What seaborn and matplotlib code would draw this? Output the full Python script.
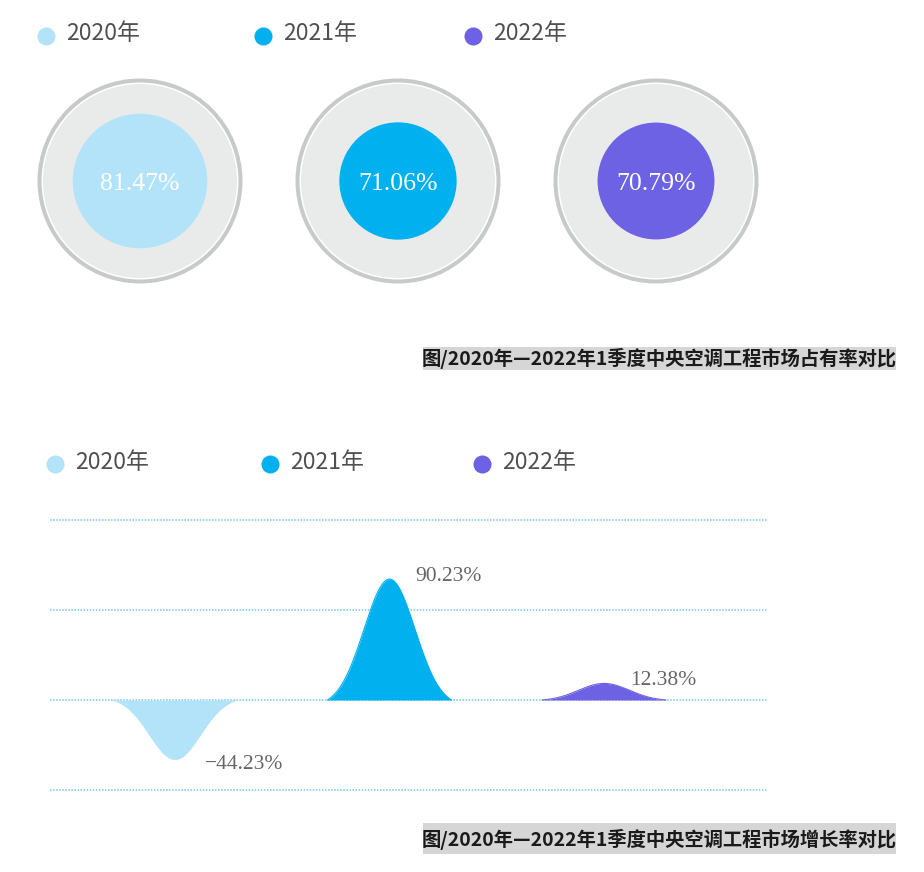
import numpy as np
import pandas as pd
import matplotlib
matplotlib.use("Agg")
import matplotlib.pyplot as plt
from matplotlib.patches import Circle, Rectangle
import seaborn as sns

# ---------------- data ----------------
years = ["2020年", "2021年", "2022年"]
share = [81.47, 71.06, 70.79]          # market share (%)
growth = [-44.23, 90.23, 12.38]        # growth rate (%)
colors = ["#b3e3f8", "#00b0ef", "#6e62e4"]
caption_share = "图/2020年—2022年1季度中央空调工程市场占有率对比"
caption_growth = "图/2020年—2022年1季度中央空调工程市场增长率对比"

sns.set_style("white")
plt.rcParams["font.family"] = ["Noto Sans CJK SC", "DejaVu Sans"]

W, H = 924, 872
fig = plt.figure(figsize=(W / 100, H / 100), dpi=100)


def fx(px):
    return px / W


def fy(py):
    return 1 - py / H


TXT = "#505050"

# ---------------- top: circles ----------------
U1 = 258.0   # pixels per category unit
cx0, cy0 = 140, 181
top_h = 300
ax1 = fig.add_axes([0, 1 - top_h / H, 1, top_h / H])
ax1.set_xlim(-cx0 / U1, (W - cx0) / U1)
ax1.set_ylim(-(top_h - cy0) / U1, cy0 / U1)
ax1.axis("off")

for i, (v, c) in enumerate(zip(share, colors)):
    ax1.add_patch(Circle((i, 0), 102.5 / U1, fc="#c8c9c9", ec="none"))
    ax1.add_patch(Circle((i, 0), 98.5 / U1, fc="white", ec="none"))
    ax1.add_patch(Circle((i, 0), 97.0 / U1, fc="#e9ebea", ec="none"))
    ax1.add_patch(Circle((i, 0), v / 100 * 0.32, fc=c, ec="none"))
    ax1.text(i, -3 / U1, f"{v:.2f}%", ha="center", va="center", color="white",
             family="Liberation Serif", fontsize=18.5)

# top legend
leg_top_x = [46, 263, 473]
for xm, lab, c in zip(leg_top_x, years, colors):
    fig.add_artist(plt.Line2D([fx(xm)], [fy(36)], marker="o", ms=13, color=c,
                              mec="none", transform=fig.transFigure))
    fig.text(fx(xm + 20), fy(33), lab, ha="left", va="center", color=TXT,
             fontsize=16.5, fontweight="medium")

# caption 1
fig.add_artist(Rectangle((fx(423), fy(370)), fx(896) - fx(423), (370 - 347) / H,
                         transform=fig.transFigure, fc="#d6d6d6", ec="none"))
fig.text(fx(897), fy(358.5), caption_share, ha="right", va="center",
         fontsize=13.9, fontweight="bold", color="#1a1a1a")

# ---------------- bottom: growth peaks ----------------
U2 = 214.5          # pixels per category unit
PXV = 1.34          # pixels per percent
grid_step = 90 / PXV
x_left, x_right = 50, 768
y_top, y_bot, y_zero = 470, 820, 700
cat0 = 175
ax2 = fig.add_axes([fx(x_left), fy(y_bot), (x_right - x_left) / W, (y_bot - y_top) / H])
ax2.set_xlim(-(cat0 - x_left) / U2, (x_right - cat0) / U2)
ax2.set_ylim(-(y_bot - y_zero) / PXV, (y_zero - y_top) / PXV)

hw = 62 / U2
sig = 25.5 / U2
rows = []
for i, (yr, v) in enumerate(zip(years, growth)):
    xs = np.linspace(-hw, hw, 241)
    g = np.exp(-0.5 * (xs / sig) ** 2)
    g0 = np.exp(-0.5 * (hw / sig) ** 2)
    shape = (g - g0) / (1 - g0)
    for xx, s in zip(xs, shape):
        rows.append({"year": yr, "x": i + xx, "y": v * s})
df = pd.DataFrame(rows)

sns.lineplot(data=df, x="x", y="y", hue="year", palette=colors, ax=ax2,
             legend=False, linewidth=0.8, sort=True, estimator=None)
for yr, c in zip(years, colors):
    d = df[df["year"] == yr]
    ax2.fill_between(d["x"], 0, d["y"], color=c, lw=0)

ax2.set_yticks([-grid_step, 0, grid_step, 2 * grid_step])
ax2.set_xticks([])
ax2.grid(axis="y", color="#79c6ea", linestyle=(0, (1, 1)), linewidth=1.1)
ax2.set_axisbelow(True)
ax2.tick_params(left=False, labelleft=False, bottom=False, labelbottom=False)
for sp in ax2.spines.values():
    sp.set_visible(False)
ax2.set_xlabel("")
ax2.set_ylabel("")

for i, v in enumerate(growth):
    off = 0.14 if v < 0 else 0.12
    lab = f"{v:.2f}%".replace("-", "\u2212")
    ax2.text(i + off, v - (4 if v < 0 else -2), lab, ha="left", va="center",
             color="#666666", family="Liberation Serif", fontsize=15.5)

# bottom legend
leg_bot_x = [55, 270, 482]
for xm, lab, c in zip(leg_bot_x, years, colors):
    fig.add_artist(plt.Line2D([fx(xm)], [fy(464)], marker="o", ms=13, color=c,
                              mec="none", transform=fig.transFigure))
    fig.text(fx(xm + 20), fy(462), lab, ha="left", va="center", color=TXT,
             fontsize=16.5, fontweight="medium")

# caption 2
fig.add_artist(Rectangle((fx(423), fy(854)), fx(896) - fx(423), (854 - 823) / H,
                         transform=fig.transFigure, fc="#d6d6d6", ec="none"))
fig.text(fx(897), fy(839), caption_growth, ha="right", va="center",
         fontsize=13.9, fontweight="bold", color="#1a1a1a")

fig.savefig("out.png", dpi=100)
